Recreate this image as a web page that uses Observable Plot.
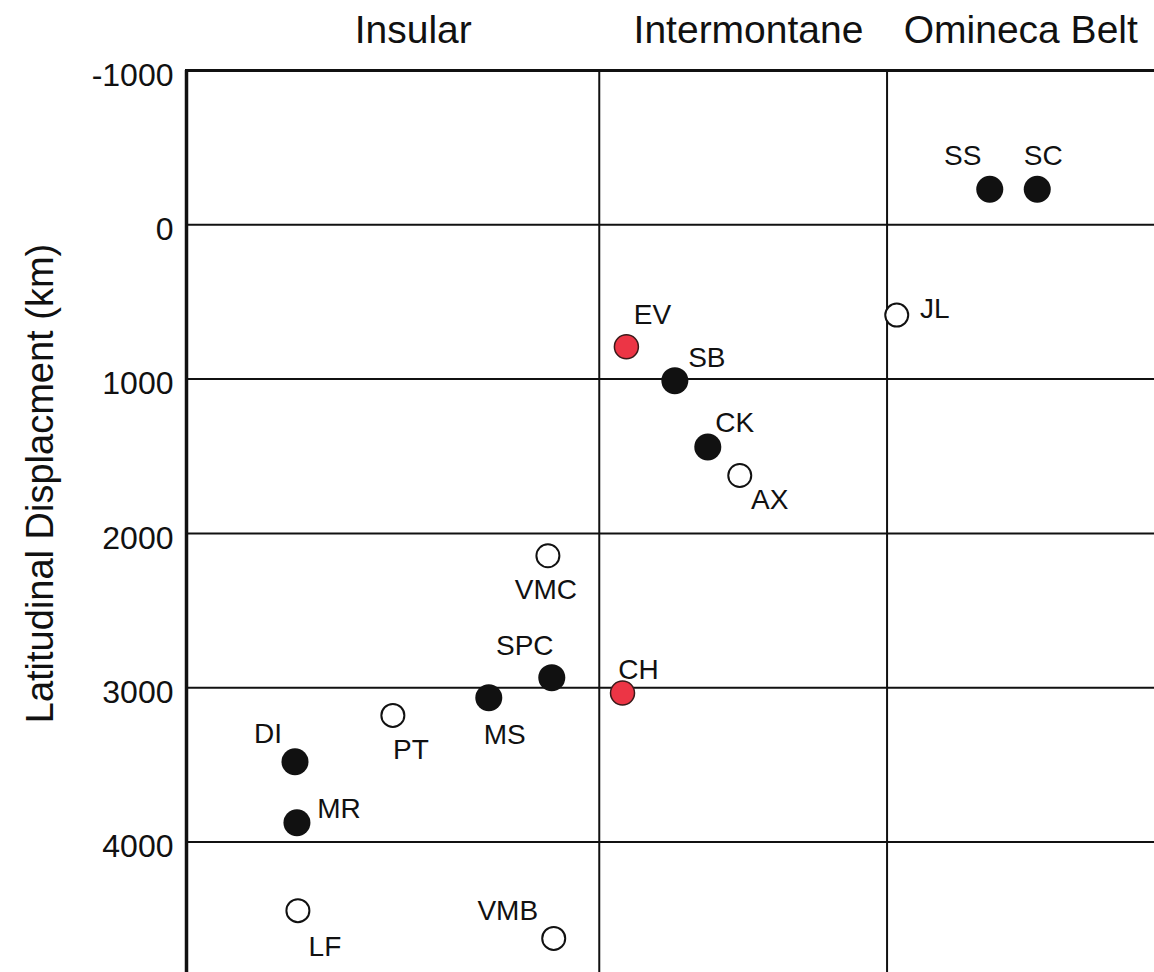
<!DOCTYPE html>
<html>
<head>
<meta charset="utf-8">
<script src="https://cdn.jsdelivr.net/npm/d3@7"></script>
<script src="https://cdn.jsdelivr.net/npm/@observablehq/plot@0.6"></script>
<style>
  html, body { margin: 0; padding: 0; background: #fff; }
</style>
</head>
<body>
<div id="chart"></div>
<script>
// Terranes / localities along the transect
const sites = ["SS", "SC", "JL", "EV", "SB", "CK", "AX", "VMC", "SPC", "MS", "CH", "PT", "DI", "MR", "LF", "VMB"];
// Position across the belts (arbitrary transect units, 0 = western edge)
const position = [83.0, 87.9, 73.4, 45.5, 50.5, 53.9, 57.2, 37.4, 37.8, 31.3, 45.1, 21.4, 11.3, 11.5, 11.6, 38.0];
// Latitudinal displacement in km (positive = northward transport)
const displacement = [-230, -230, 585, 790, 1010, 1440, 1625, 2145, 2935, 3065, 3035, 3180, 3480, 3875, 4445, 4625];
// Symbol class for each locality
const kind = ["solid", "solid", "open", "red", "solid", "solid", "open", "open", "solid", "solid", "red", "open", "solid", "solid", "open", "open"];
// Where each label sits relative to its symbol, in pixels
const labelNudge = [[-27, -34], [6, -34], [38, -7], [26, -33], [32, -24], [27, -25], [30, 24], [-2, 33],
                    [-27, -33], [16, 36], [16, -24], [18, 34], [-27, -29], [42, -15], [27, 35], [-46, -28]];

// Belt boundaries and belt names along the top
const beltBoundaries = [42.7, 72.4];
const beltNames = ["Insular", "Intermontane", "Omineca Belt"];
const beltLabelPos = [23.5, 58.1, 86.2];

// y ticks
const yTicks = [-1000, 0, 1000, 2000, 3000, 4000];

const points = sites.map((s, i) => ({
  site: s, x: position[i], y: displacement[i], kind: kind[i],
  dx: labelNudge[i][0], dy: labelNudge[i][1]
}));
const belts = beltNames.map((name, i) => ({name, x: beltLabelPos[i]}));

const ink = "#111";
const font = "'Liberation Sans', Arial, Helvetica, sans-serif";

const chart = Plot.plot({
  width: 1154,
  height: 972,
  marginLeft: 185,
  marginRight: 0,
  marginTop: 70,
  marginBottom: 0,
  style: {background: "#fff", color: ink, fontFamily: font},
  x: {domain: [0, 100], axis: null},
  y: {domain: [-1000, 4846], reverse: true, axis: null},
  marks: [
    // grid
    Plot.ruleY(yTicks.filter(d => d > -1000), {stroke: ink, strokeWidth: 2}),
    Plot.ruleY([-1000], {stroke: ink, strokeWidth: 3}),
    Plot.ruleX(beltBoundaries, {stroke: ink, strokeWidth: 2}),
    Plot.ruleX([0], {stroke: ink, strokeWidth: 3.5, dx: 1}),

    // y axis ticks and title
    Plot.axisY({ticks: yTicks, tickSize: 0, tickPadding: 12, fontSize: 32, dy: 5,
                tickFormat: d => String(d), label: null}),
    Plot.text(["Latitudinal Displacment (km)"], {
      frameAnchor: "left", textAnchor: "middle", lineAnchor: "middle",
      rotate: -90, dx: -145, dy: -38, fontSize: 38, fill: ink
    }),

    // belt names above the frame
    Plot.text(belts, {x: "x", text: "name", frameAnchor: "top", lineAnchor: "middle",
                      dy: -40, fontSize: 39, fill: ink}),

    // symbols
    Plot.dot(points.filter(d => d.kind === "solid"), {x: "x", y: "y", r: 13.5, fill: ink, stroke: "none"}),
    Plot.dot(points.filter(d => d.kind === "open"), {x: "x", y: "y", r: 11.5, fill: "#fff", stroke: ink, strokeWidth: 2}),
    Plot.dot(points.filter(d => d.kind === "red"), {x: "x", y: "y", r: 12, fill: "#ec3545", stroke: "#3a1a1a", strokeWidth: 1.5}),

    // locality labels
    ...points.map(d => Plot.text([d], {
      x: "x", y: "y", text: "site", dx: d.dx, dy: d.dy + 1, fontSize: 28, fill: ink
    }))
  ]
});

document.getElementById("chart").append(chart);
</script>
</body>
</html>
